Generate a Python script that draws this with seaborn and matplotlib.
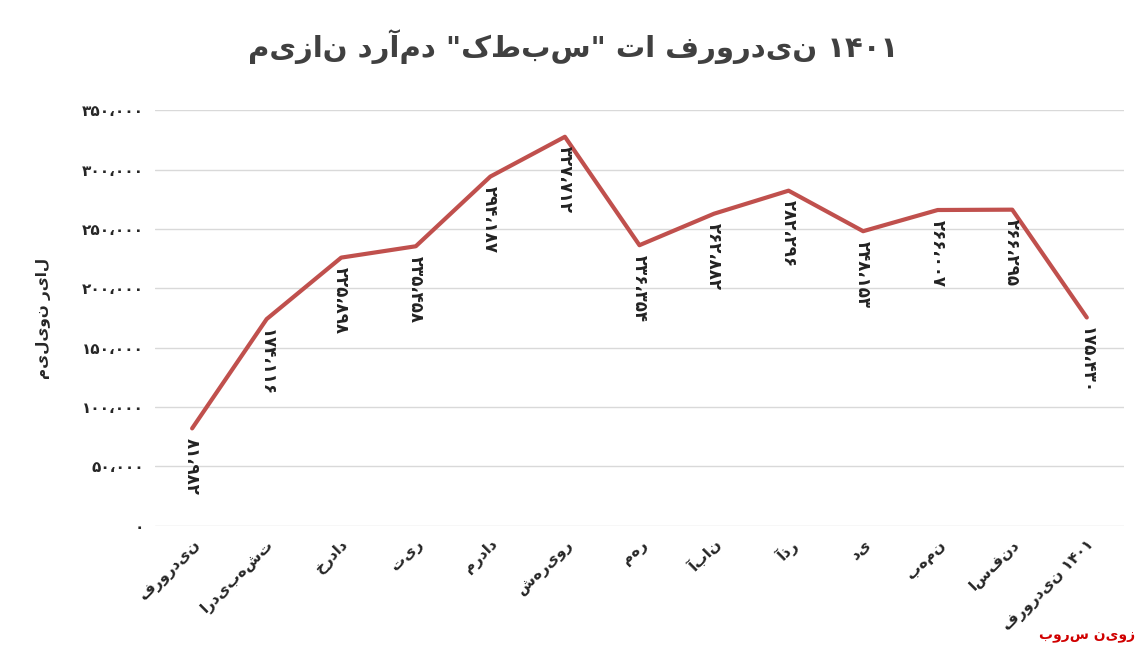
import matplotlib
matplotlib.use("Agg")
import matplotlib.pyplot as plt
import seaborn as sns
import pandas as pd

months = ["فروردین", "اردیبهشت", "خرداد", "تیر", "مرداد", "شهریور", "مهر",
          "آبان", "آذر", "دی", "بهمن", "اسفند", "فروردین ۱۴۰۱"]
revenue = [81982, 174116, 225898, 235458, 294187, 327712, 236354,
           262882, 282296, 248153, 266007, 266295, 175430]
yticks = [0, 50000, 100000, 150000, 200000, 250000, 300000, 350000]

FA = str.maketrans("0123456789,", "۰۱۲۳۴۵۶۷۸۹،")


def fa_num(v):
    return f"{v:,}".translate(FA)


df = pd.DataFrame({"month": range(len(months)), "revenue": revenue})

sns.set_theme(style="white")
plt.rcParams["font.family"] = ["DejaVu Sans"]
fig, ax = plt.subplots(figsize=(11.47, 6.49), dpi=100)
sns.lineplot(data=df, x="month", y="revenue", ax=ax, color="#c0504d", linewidth=3)

for i, v in enumerate(revenue):
    ax.text(i, v - 8000, fa_num(v), rotation=-90, ha="center", va="top",
            fontsize=12, fontweight="bold", color="#222222")

ax.set_ylim(0, 350000)
ax.set_yticks(yticks)
ax.set_yticklabels([fa_num(t) for t in yticks], fontsize=11, fontweight="bold")
ax.yaxis.grid(True, color="#d9d9d9", linewidth=1)
ax.set_xlim(-0.5, len(months) - 0.5)
ax.set_xticks(range(len(months)))
ax.set_xticklabels(months, rotation=45, ha="right",
                   rotation_mode="anchor", fontsize=11, fontweight="bold")
ax.set_xlabel("")
ax.set_ylabel("میلیون ریال", fontsize=11, fontweight="bold", labelpad=22)
for s in ax.spines.values():
    s.set_visible(False)
ax.tick_params(length=0, pad=8)

fig.suptitle('میزان درآمد "کطبس" تا فروردین ۱۴۰۱', fontsize=21,
             fontweight="bold", color="#404040", y=0.955)
fig.text(0.99, 0.01, "بورس نیوز", color="#d00000", fontsize=10,
         fontweight="bold", ha="right", va="bottom")
fig.subplots_adjust(left=0.135, right=0.98, top=0.83, bottom=0.19)
fig.savefig("out.png", dpi=100)
